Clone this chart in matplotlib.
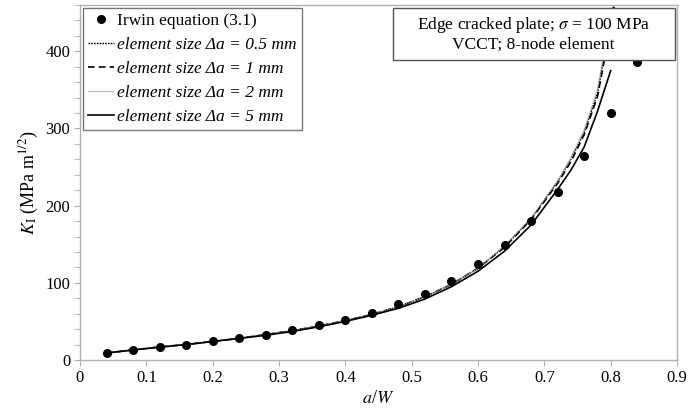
import matplotlib
matplotlib.use("Agg")
import matplotlib.pyplot as plt
from matplotlib.ticker import MultipleLocator
from matplotlib.patches import Rectangle

plt.rcParams['font.family'] = ['Liberation Serif', 'DejaVu Serif']
plt.rcParams['mathtext.fontset'] = 'stix'

# Irwin equation (3.1) points
a_irwin = [0.04, 0.08, 0.12, 0.16, 0.20, 0.24, 0.28, 0.32, 0.36, 0.40, 0.44,
           0.48, 0.52, 0.56, 0.60, 0.64, 0.68, 0.72, 0.76, 0.80, 0.84]
K_irwin = [9, 13, 17, 20, 24, 28, 33, 39, 45, 52, 61,
           72, 86, 103, 124, 149, 180, 218, 265, 320, 386]

# FE curves
a_fe = [0.04, 0.08, 0.12, 0.16, 0.20, 0.24, 0.28, 0.32, 0.36, 0.40, 0.44,
        0.48, 0.52, 0.56, 0.60, 0.64, 0.68, 0.72, 0.74, 0.76, 0.78, 0.80, 0.82]
K_05 = [9, 13, 17, 20, 24, 28, 33, 38, 44, 51, 59,
        69, 82, 98, 119, 147, 183, 231, 260, 295, 345, 440, 540]
K_1 = [9, 13, 17, 20, 24, 28, 33, 38, 44, 51, 59,
       69, 82, 98, 119, 146, 182, 229, 257, 292, 341, 432, 530]
K_2 = [9, 13, 17, 20, 24, 28, 33, 38, 44, 51, 59,
       69, 82, 98, 119, 148, 184, 232, 262, 298, 350, 445, 545]
a_fe5 = [0.04, 0.08, 0.12, 0.16, 0.20, 0.24, 0.28, 0.32, 0.36, 0.40, 0.44,
         0.48, 0.52, 0.56, 0.60, 0.64, 0.68, 0.72, 0.74, 0.76, 0.78, 0.80]
K_5 = [9, 13, 16.5, 20, 24, 28, 32, 37, 43, 50, 58,
       67, 79, 95, 115, 141, 175, 221, 246, 276, 322, 375]

labels = ['Irwin equation (3.1)',
          'element size \u0394a = 0.5 mm',
          'element size \u0394a = 1 mm',
          'element size \u0394a = 2 mm',
          'element size \u0394a = 5 mm']

fig = plt.figure(figsize=(6.89, 4.20), dpi=100)
ax = fig.add_axes([0.1161, 0.1429, 0.8665, 0.8451])

ax.plot(a_irwin, K_irwin, 'o', color='black', markersize=5.5, label=labels[0], zorder=5)
ax.plot(a_fe, K_05, color='black', lw=1.0, linestyle=(0, (1.2, 0.8)), label=labels[1])
ax.plot(a_fe, K_1, color='black', lw=1.2, linestyle=(0, (4, 2.5)), label=labels[2])
ax.plot(a_fe, K_2, color='#999999', lw=0.9, linestyle=(0, (1, 0.6)), label=labels[3])
ax.plot(a_fe5, K_5, color='black', lw=1.2, linestyle='-', label=labels[4])

ax.set_xlim(0, 0.9)
ax.set_ylim(0, 460)
ax.yaxis.set_major_locator(MultipleLocator(100))
ax.yaxis.set_minor_locator(MultipleLocator(20))
ax.set_xticks([0, 0.1, 0.2, 0.3, 0.4, 0.5, 0.6, 0.7, 0.8, 0.9])
ax.set_xticklabels(['0', '0.1', '0.2', '0.3', '0.4', '0.5', '0.6', '0.7', '0.8', '0.9'])

for s in ax.spines.values():
    s.set_color('#b0b0b0')
    s.set_linewidth(1.0)
ax.tick_params(axis='both', which='major', direction='out', length=4, color='#b0b0b0', labelsize=12, pad=3)
ax.tick_params(axis='y', which='minor', direction='out', length=4, color='#b0b0b0')

ax.set_xlabel('$a$/$W$', fontsize=13, labelpad=3)
ax.set_ylabel(r'$K_{\rm I}$ (MPa m$^{1/2}$)', fontsize=13, labelpad=3)

leg = ax.legend(loc='upper left', bbox_to_anchor=(0.005, 0.992), fontsize=12.5, frameon=True,
                fancybox=False, edgecolor='#555555', handlelength=1.5, handletextpad=0.15,
                labelspacing=0.45, borderpad=0.3, borderaxespad=0.0)
leg.get_frame().set_linewidth(1.0)
for i, t in enumerate(leg.get_texts()):
    if i > 0:
        t.set_style('italic')

ax.add_patch(Rectangle((0.524, 0.845), 0.997 - 0.524, 0.9915 - 0.845, transform=ax.transAxes,
                       facecolor='white', edgecolor='#555555', linewidth=1.0, zorder=9, clip_on=False))
ax.text(0.760, 0.918, 'Edge cracked plate; $\\sigma$ = 100 MPa\nVCCT; 8-node element',
        transform=ax.transAxes, ha='center', va='center', fontsize=12.5, linespacing=1.15,
        zorder=10)

fig.savefig('out.png', dpi=100)
